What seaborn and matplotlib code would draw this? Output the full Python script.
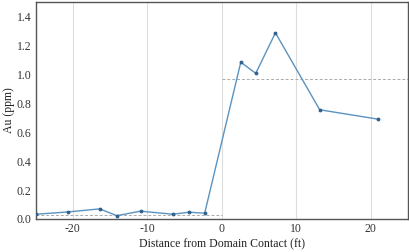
import matplotlib
matplotlib.use("Agg")
import matplotlib.pyplot as plt
import seaborn as sns
import pandas as pd

distance_ft = [-24.9, -20.6, -16.4, -14.1, -10.9, -6.6, -4.4, -2.3, 2.55, 4.56, 7.2, 13.15, 21.0]
au_ppm = [0.033, 0.049, 0.070, 0.023, 0.054, 0.033, 0.047, 0.040, 1.084, 1.007, 1.287, 0.755, 0.690]
mean_before = 0.03
mean_after = 0.965
x_ticks = [-20, -10, 0, 10, 20]
y_ticks = [0.0, 0.2, 0.4, 0.6, 0.8, 1.0, 1.2, 1.4]

df = pd.DataFrame({"Distance": distance_ft, "Au": au_ppm})

sns.set_style("white")
plt.rcParams["font.family"] = ["Liberation Serif", "DejaVu Serif"]

fig = plt.figure(figsize=(4.1, 2.52), dpi=100)
ax = fig.add_axes([0.087, 0.131, 0.908, 0.861])

for xt in x_ticks:
    ax.axvline(xt, color="#dddddd", lw=0.8, zorder=0)

ax.plot([-25, 0], [mean_before, mean_before], ls=(0, (3, 2)), color="#aaaaaa", lw=0.7, zorder=1)
ax.plot([0, 25], [mean_after, mean_after], ls=(0, (3, 2)), color="#aaaaaa", lw=0.7, zorder=1)

sns.lineplot(data=df, x="Distance", y="Au", ax=ax, color="#5b93c0", lw=1.0,
             marker="o", markersize=2.0, markerfacecolor="#2f5f8a",
             markeredgecolor="#2f5f8a", zorder=3)

ax.set_xlim(-25, 25)
ax.set_ylim(0, 1.5)
ax.set_xticks(x_ticks)
ax.set_xticklabels([str(t) for t in x_ticks])
ax.set_yticks(y_ticks)
ax.set_yticklabels([f"{t:.1f}" for t in y_ticks])
ax.tick_params(labelsize=8.5, length=0, pad=3, colors="#333333")
ax.set_xlabel("Distance from Domain Contact (ft)", fontsize=8.5, color="#222222", labelpad=2)
ax.set_ylabel("Au (ppm)", fontsize=8.5, color="#222222", labelpad=1)
for s in ax.spines.values():
    s.set_color("#555555")
    s.set_linewidth(1.0)

fig.savefig("out.png", dpi=100)
